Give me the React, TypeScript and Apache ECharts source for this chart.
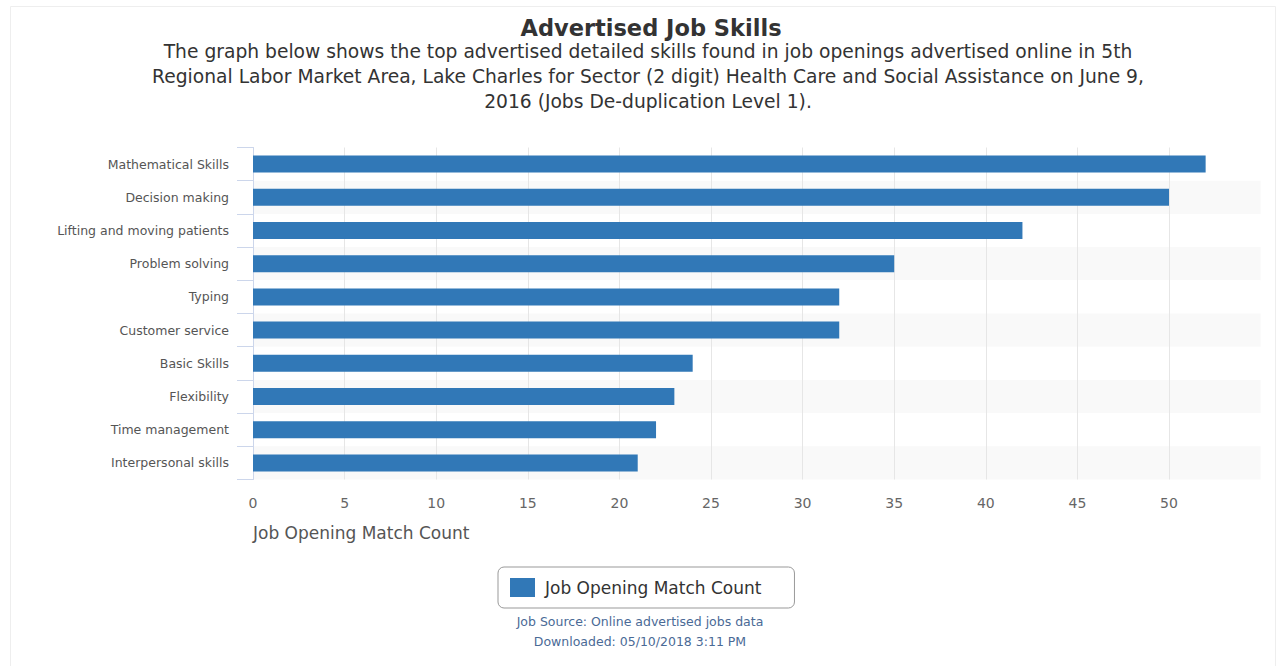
import React, { useEffect, useRef } from "react";
import * as echarts from "echarts";

const categories = [
  "Mathematical Skills",
  "Decision making",
  "Lifting and moving patients",
  "Problem solving",
  "Typing",
  "Customer service",
  "Basic Skills",
  "Flexibility",
  "Time management",
  "Interpersonal skills",
];
const values = [52, 50, 42, 35, 32, 32, 24, 23, 22, 21];
const seriesName = "Job Opening Match Count";
const titleText = "Advertised Job Skills";
const subtitleText =
  "The graph below shows the top advertised detailed skills found in job openings advertised online in 5th\nRegional Labor Market Area, Lake Charles for Sector (2 digit) Health Care and Social Assistance on June 9,\n2016 (Jobs De-duplication Level 1).";
const creditLines = ["Job Source: Online advertised jobs data", "Downloaded: 05/10/2018 3:11 PM"];

const FONT = "DejaVu Sans";

export default function App() {
  const ref = useRef<HTMLDivElement>(null);
  useEffect(() => {
    document.body.style.margin = "0";
    const chart = echarts.init(ref.current!, null, { renderer: "svg" });
    const gridColors = [
      "#e6e6e6", "#e6e6e6", "#e6e6e6", "#e6e6e6", "#e6e6e6", "#e6e6e6",
      "#e6e6e6", "#e6e6e6", "#e6e6e6", "#e6e6e6", "#e6e6e6", "rgba(0,0,0,0)",
    ];
    chart.setOption({
      animation: false,
      backgroundColor: "#ffffff",
      title: [
        {
          text: titleText,
          left: 646,
          textAlign: "center",
          top: 11,
          textStyle: { fontFamily: FONT, fontSize: 22.5, fontWeight: "bold", color: "#333333" },
        },
        {
          text: subtitleText,
          left: 643,
          textAlign: "center",
          top: 34,
          textStyle: { fontFamily: FONT, fontSize: 18.7, fontWeight: "normal", color: "#333333", lineHeight: 25 },
        },
      ],
      legend: {
        show: true,
        left: 498,
        top: 567,
        padding: [11, 33, 11, 12],
        itemWidth: 25,
        itemHeight: 19,
        itemGap: 8,
        borderColor: "#999999",
        borderWidth: 1,
        borderRadius: 6,
        textStyle: { fontFamily: FONT, fontSize: 17, color: "#333333", padding: [0, 0, 0, 5] },
        data: [{ name: seriesName, icon: "rect" }],
      },
      grid: { left: 253, right: 19.4, top: 147.5, bottom: 186.5, containLabel: false },
      xAxis: {
        type: "value",
        min: 0,
        max: 55,
        interval: 5,
        name: seriesName,
        nameLocation: "start",
        nameGap: 0,
        nameTextStyle: {
          fontFamily: FONT,
          fontSize: 17,
          color: "#555555",
          align: "left",
          verticalAlign: "top",
          padding: [45, 0, 0, 0],
        },
        axisLine: { show: false },
        axisTick: { show: false },
        axisLabel: {
          fontFamily: FONT,
          fontSize: 14,
          color: "#666666",
          margin: 16,
          formatter: (v: number) => (v >= 55 ? "" : String(v)),
        },
        splitLine: { show: true, lineStyle: { color: gridColors, width: 1 } },
      },
      yAxis: {
        type: "category",
        data: categories,
        inverse: true,
        axisLine: { show: true, lineStyle: { color: "#ccd6eb" } },
        axisTick: { show: true, length: 16, alignWithLabel: false, lineStyle: { color: "#ccd6eb" } },
        axisLabel: { fontFamily: FONT, fontSize: 12.5, color: "#555555", margin: 24 },
        splitArea: { show: true, areaStyle: { color: ["#ffffff", "#f9f9f9"] } },
        splitLine: { show: false },
      },
      series: [
        {
          name: seriesName,
          type: "bar",
          data: values,
          barWidth: 17,
          itemStyle: { color: "#3178b7" },
        },
      ],
      graphic: [
        {
          type: "rect",
          silent: true,
          shape: { x: 10.5, y: 6.5, width: 1265, height: 665 },
          style: { fill: "none", stroke: "#eeeeee", lineWidth: 1 },
          z: -1,
        },
        {
          type: "text",
          left: "center",
          top: 611,
          style: {
            text: creditLines.join("\n"),
            fontFamily: FONT,
            fontSize: 12.5,
            lineHeight: 20,
            fill: "#4a6a96",
            textAlign: "center",
          },
        },
      ],
    });
    return () => chart.dispose();
  }, []);
  return <div ref={ref} style={{ width: 1280, height: 666 }} />;
}
